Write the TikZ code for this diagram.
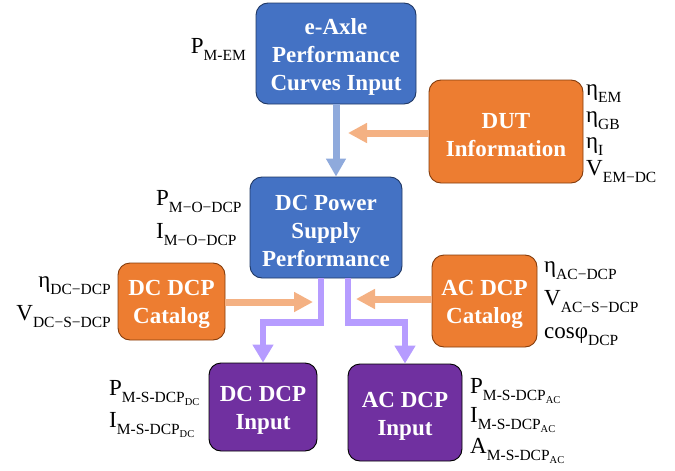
\documentclass[tikz,border=0pt]{standalone}
\usepackage{fontspec}
\setmainfont{Liberation Serif}
\usetikzlibrary{arrows.meta,calc}
\definecolor{bxblue}{HTML}{4472C4}
\definecolor{bdblue}{HTML}{203864}
\definecolor{bxorange}{HTML}{ED7D31}
\definecolor{bdorange}{HTML}{843C0C}
\definecolor{bxpurple}{HTML}{7030A0}
\definecolor{arblue}{HTML}{8FAADC}
\definecolor{arorange}{HTML}{F4B183}
\definecolor{arpurple}{HTML}{B69CFF}
\newcommand{\sbs}[1]{\raisebox{-7pt}{\fontsize{15.5}{15.5}\selectfont #1}}
\newcommand{\ssbs}[1]{\raisebox{-3pt}{\fontsize{10.5}{10.5}\selectfont #1}}
\newcommand{\tp}{\rule{0pt}{22pt}}
\begin{document}
\begin{tikzpicture}[x=1pt,y=-1pt,
  boxstyle/.style={rounded corners=12pt, line width=0.9pt, text=white, align=center,
    font=\bfseries\fontsize{23}{28}\selectfont, inner sep=0pt},
  bluebox/.style={boxstyle, fill=bxblue, draw=bdblue},
  orangebox/.style={boxstyle, fill=bxorange, draw=bdorange},
  purplebox/.style={boxstyle, fill=bxpurple, draw=black},
  lbl/.style={font=\fontsize{23}{23}\selectfont, inner sep=0pt},
  blueline/.style={draw=arblue, line width=7pt, -{Triangle[width=19pt,length=18pt]}},
  orangeline/.style={draw=arorange, line width=7pt, -{Triangle[width=19pt,length=19pt]}},
  purpleline/.style={draw=arpurple, line width=6.3pt, -{Triangle[width=20pt,length=18pt]}}
]
\useasboundingbox (0,0) rectangle (675,471);

\node[bluebox, minimum width=160pt, minimum height=101pt] (eaxle) at (336,53.5) {\tp e-Axle\\Performance\\Curves Input};
\node[orangebox, minimum width=154pt, minimum height=103pt] (dut) at (506,131.5) {\tp DUT\\Information};
\node[bluebox, minimum width=152pt, minimum height=101pt] (dcps) at (326,227.5) {\tp DC Power\\Supply\\Performance};
\node[orangebox, minimum width=107pt, minimum height=77pt] (dccat) at (171.5,301.5) {\tp DC DCP\\Catalog};
\node[orangebox, minimum width=105pt, minimum height=92pt] (accat) at (484.5,301) {\tp AC DCP\\Catalog};
\node[purplebox, minimum width=108pt, minimum height=88pt] (dcin) at (263,407) {\tp DC DCP\\Input};
\node[purplebox, minimum width=114pt, minimum height=97pt] (acin) at (405,412.5) {\tp AC DCP\\Input};

% connectors
\coordinate (mdut) at (348,133);
\coordinate (mdc) at (313,302);
\coordinate (mac) at (356,299);
\draw[blueline] (eaxle.south) -- (eaxle.south |- dcps.north);
\draw[orangeline] (dut.west |- mdut) -- (mdut);
\draw[orangeline] (dccat.east |- mdc) -- (mdc);
\draw[orangeline] (accat.west |- mac) -- (mac);
\draw[purpleline] ([xshift=-5pt]dcps.south) -- ++(0,44) -| (dcin.north);
\draw[purpleline] ([xshift=22pt]dcps.south) -- ++(0,44) -| (acin.north);

% labels
\node[lbl, anchor=base east] (l1) at (246,53) {P\sbs{M-EM}};
\node[lbl, anchor=base west] (l2) at (586,95) {η\sbs{EM}};
\node[lbl, anchor=base west] (l3) at (586,122) {η\sbs{GB}};
\node[lbl, anchor=base west] (l4) at (586,148) {η\sbs{I}};
\node[lbl, anchor=base west] (l5) at (586,175) {V\sbs{EM−DC}};
\node[lbl, anchor=base west] (l6) at (156,205) {P\sbs{M−O−DCP}};
\node[lbl, anchor=base west] (l7) at (156,238) {I\sbs{M−O−DCP}};
\node[lbl, anchor=base east] (l8) at (111,287) {η\sbs{DC−DCP}};
\node[lbl, anchor=base east] (l9) at (111,320) {V\sbs{DC−S−DCP}};
\node[lbl, anchor=base west] (l10) at (544,272) {η\sbs{AC−DCP}};
\node[lbl, anchor=base west] (l11) at (544,305) {V\sbs{AC−S−DCP}};
\node[lbl, anchor=base west] (l12) at (544,338) {cosφ\sbs{DCP}};
\node[lbl, anchor=base west] (l13) at (109,395) {P\sbs{M-S-DCP\ssbs{DC}}};
\node[lbl, anchor=base west] (l14) at (109,427) {I\sbs{M-S-DCP\ssbs{DC}}};
\node[lbl, anchor=base west] (l15) at (470,393) {P\sbs{M-S-DCP\ssbs{AC}}};
\node[lbl, anchor=base west] (l16) at (470,422) {I\sbs{M-S-DCP\ssbs{AC}}};
\node[lbl, anchor=base west] (l17) at (470,453) {A\sbs{M-S-DCP\ssbs{AC}}};
\end{tikzpicture}
\end{document}
